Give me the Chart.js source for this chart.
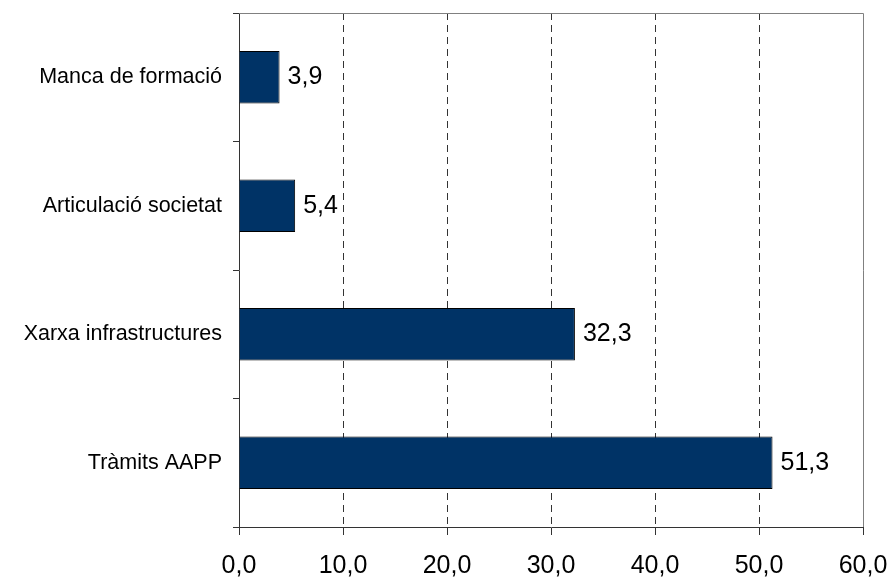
<!DOCTYPE html>
<html>
<head>
<meta charset="utf-8">
<script src="https://cdn.jsdelivr.net/npm/chart.js"></script>
<style>
  html, body { margin: 0; padding: 0; background: #fff; }
  #wrap { width: 891px; height: 578px; }
</style>
</head>
<body>
<div id="wrap"><canvas id="chart"></canvas></div>
<script>
// Dades del gràfic
const categories = ['Manca de formació', 'Articulació societat', 'Xarxa infrastructures', 'Tràmits AAPP'];
const valors = [3.9, 5.4, 32.3, 51.3];
const xTicks = [0, 10, 20, 30, 40, 50, 60];

const fmt = v => Number(v).toFixed(1).replace('.', ',');

// etiquetes de valor al costat de cada barra + vora superior i dreta
const labelsPlugin = {
    id: 'valueLabels',
    afterDatasetsDraw(chart) {
        const ctx = chart.ctx;
        const meta = chart.getDatasetMeta(0);
        ctx.save();
        ctx.font = '25px "Liberation Sans", Arial, sans-serif';
        ctx.fillStyle = '#000';
        ctx.textBaseline = 'middle';
        ctx.textAlign = 'left';
        meta.data.forEach((bar, i) => {
            ctx.fillText(fmt(valors[i]), bar.x + 8, bar.y);
        });
        ctx.restore();
    },
    afterDraw(chart) {
        const a = chart.chartArea;
        const ctx = chart.ctx;
        ctx.save();
        ctx.strokeStyle = '#808080';
        ctx.lineWidth = 1;
        ctx.beginPath();
        ctx.moveTo(a.left, Math.round(a.top) + 0.5);
        ctx.lineTo(Math.round(a.right) + 0.5, Math.round(a.top) + 0.5);
        ctx.lineTo(Math.round(a.right) + 0.5, a.bottom);
        ctx.stroke();
        ctx.restore();
    }
};

const noOverflow = scale => {
    scale.paddingLeft = 0;
    scale.paddingRight = 0;
    scale.paddingTop = 0;
    scale.paddingBottom = 0;
};

new Chart(document.getElementById('chart'), {
    type: 'bar',
    data: {
        labels: categories,
        datasets: [{
            data: valors,
            backgroundColor: '#003366',
            borderColor: '#000',
            borderWidth: 1,
            barPercentage: 0.41,
            categoryPercentage: 1
        }]
    },
    options: {
        indexAxis: 'y',
        responsive: true,
        maintainAspectRatio: false,
        animation: false,
        layout: { padding: { top: 13, right: 28, bottom: 0, left: 0 } },
        plugins: {
            legend: { display: false },
            tooltip: { enabled: false }
        },
        scales: {
            x: {
                min: 0,
                max: 60,
                afterBuildTicks: scale => { scale.ticks = xTicks.map(v => ({ value: v })); },
                afterFit: scale => { scale.height = 51; noOverflow(scale); },
                ticks: {
                    padding: 16,
                    color: '#000',
                    font: { family: '"Liberation Sans", Arial, sans-serif', size: 25 },
                    callback: v => fmt(v)
                },
                grid: {
                    color: ctx => (ctx.index === 0 || ctx.index === xTicks.length - 1) ? 'rgba(0,0,0,0)' : '#333',
                    tickColor: '#333',
                    tickLength: 8,
                    lineWidth: 1
                },
                border: { color: '#333', width: 1, dash: [7, 5] }
            },
            y: {
                afterFit: scale => { scale.width = 239; noOverflow(scale); },
                ticks: {
                    padding: 11,
                    color: '#000',
                    font: { family: '"Liberation Sans", Arial, sans-serif', size: 21.5 }
                },
                grid: {
                    offset: true,
                    drawOnChartArea: false,
                    tickColor: '#333',
                    tickLength: 6
                },
                border: { color: '#333', width: 1 }
            }
        }
    },
    plugins: [labelsPlugin]
});
</script>
</body>
</html>
